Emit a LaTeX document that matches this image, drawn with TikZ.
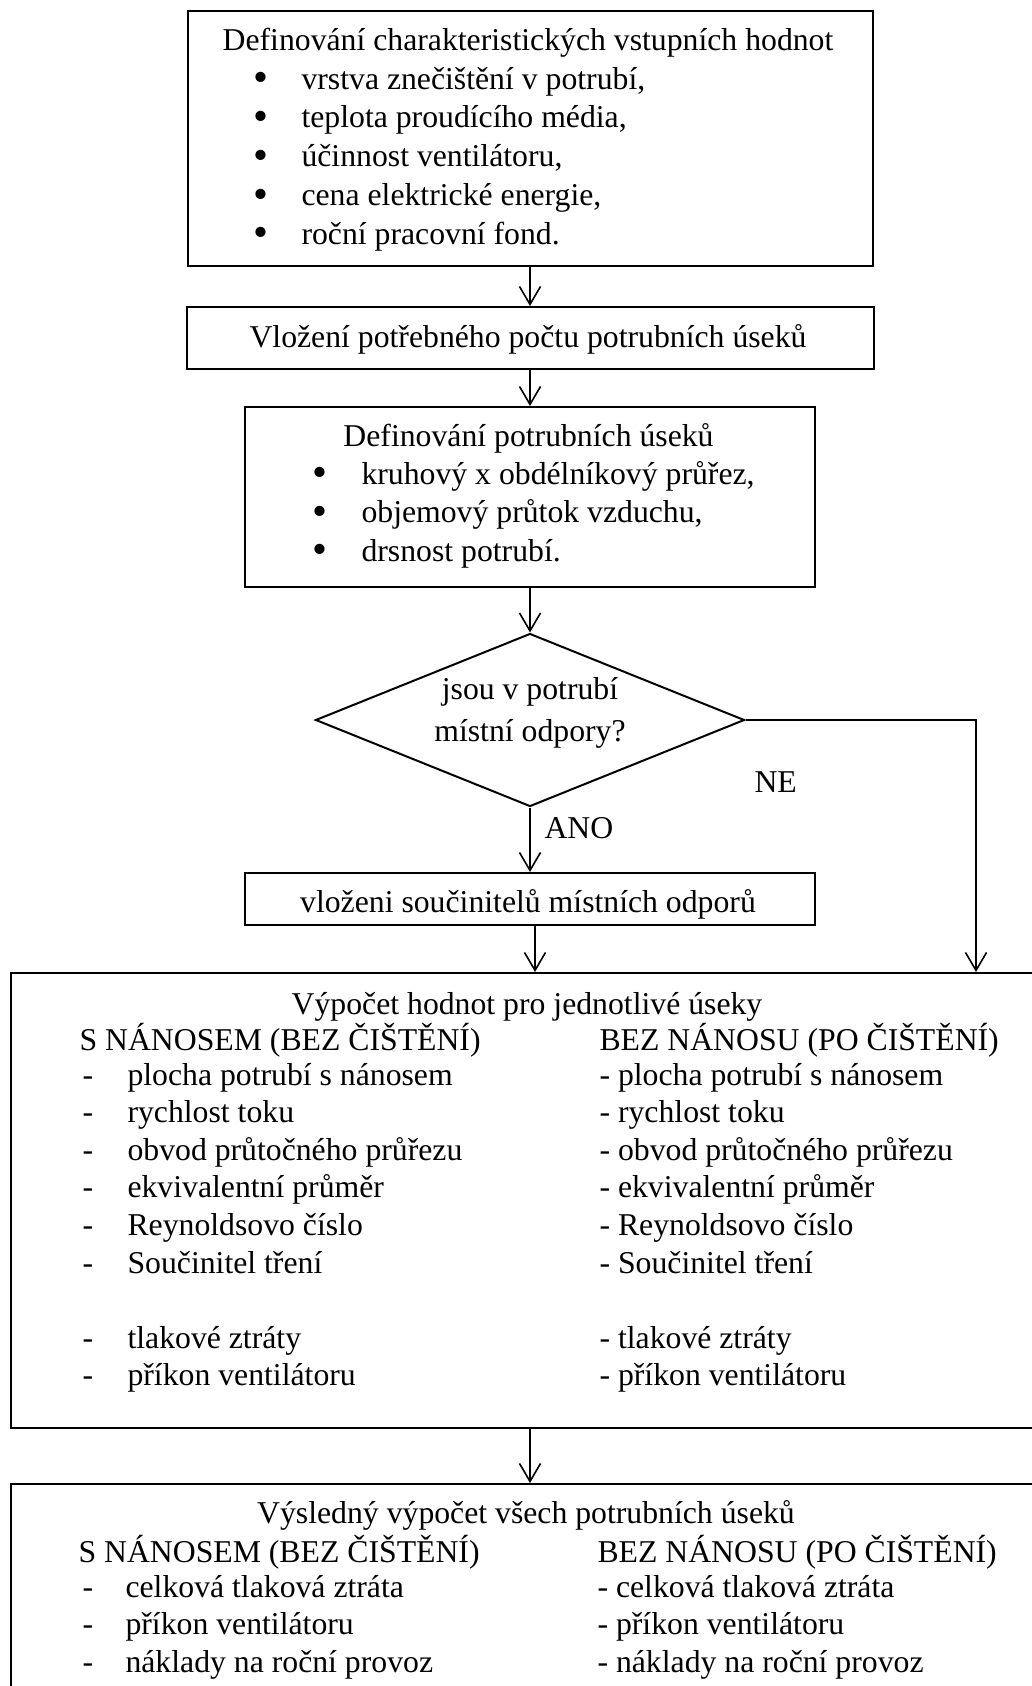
\documentclass[tikz,border=0pt]{standalone}
\usepackage{fontspec}
\setmainfont{Liberation Serif}
\usetikzlibrary{shapes.geometric,arrows.meta}
\def\pxu{0.375pt}
\tikzset{
   box/.style={draw, line width=0.75pt, rectangle, inner sep=0pt},
   decision/.style={draw, line width=0.75pt, diamond, aspect=2.48, inner sep=0pt},
   flow/.style={line width=0.6pt, -{Straight Barb[length=6.75pt, width=7.9pt]}},
   txt/.style={inner sep=0pt, anchor=base west, font=\fontsize{11.9}{14}\selectfont},
   ctxt/.style={txt, anchor=base},
   dot/.style={inner sep=0pt, anchor=center, font=\fontsize{16}{16}\selectfont},
}
\begin{document}
\begin{tikzpicture}[x=\pxu, y=-\pxu]
   \useasboundingbox (0, 0) rectangle (1032, 1686);
   % boxes
   \node[box, minimum width=685*\pxu, minimum height=255*\pxu] (inputs) at (530, 138.5) {};
   \node[box, minimum width=687*\pxu, minimum height=62*\pxu] (count) at (530, 338) {};
   \node[box, minimum width=570*\pxu, minimum height=180*\pxu] (sections) at (530, 497) {};
   \node[decision, minimum width=429*\pxu, minimum height=173*\pxu] (dec) at (530, 720) {};
   \node[box, minimum width=570*\pxu, minimum height=52*\pxu] (coef) at (530, 899) {};
   \node[box, minimum width=1034*\pxu, minimum height=455*\pxu] (calc) at (528, 1200.5) {};
   \node[box, minimum width=1034*\pxu, minimum height=216*\pxu] (result) at (528, 1592) {};
   % input values
   \node[ctxt] (intitle) at (528, 50.5) {Definování charakteristických vstupních hodnot};
   \foreach \t [count=\i] in {{vrstva znečištění v potrubí,}, {teplota proudícího média,},
         {účinnost ventilátoru,}, {cena elektrické energie,}, {roční pracovní fond.}} {
      \node[dot] (inb\i) at (261, {89 + 38.8*(\i - 1) - 7}) {•};
      \node[txt] (in\i) at (301, {89 + 38.8*(\i - 1)}) {\t};
   }
   \node[ctxt] (counttext) at (528, 347) {Vložení potřebného počtu potrubních úseků};
   % pipe sections
   \node[ctxt] (sectitle) at (528.5, 446) {Definování potrubních úseků};
   \foreach \t [count=\i] in {{kruhový x obdélníkový průřez,}, {objemový průtok vzduchu,},
         {drsnost potrubí.}} {
      \node[dot] (secb\i) at (320, {484 + 38.5*(\i - 1) - 7}) {•};
      \node[txt] (sec\i) at (361, {484 + 38.5*(\i - 1)}) {\t};
   }
   % decision
   \node[ctxt] (dec1) at (530, 699) {jsou v potrubí};
   \node[ctxt] (dec2) at (530, 741) {místní odpory?};
   \node[txt] (ne) at (754, 792) {NE};
   \node[txt] (ano) at (544, 838) {ANO};
   \node[ctxt] (coeftext) at (528, 912) {vloženi součinitelů místních odporů};
   % values per section
   \node[ctxt] (calctitle) at (527, 1014) {Výpočet hodnot pro jednotlivé úseky};
   \node[txt] (calcl) at (79, 1050) {S NÁNOSEM (BEZ ČIŠTĚNÍ)};
   \node[txt] (calcr) at (599, 1050) {BEZ NÁNOSU (PO ČIŠTĚNÍ)};
   \foreach \k/\t in {1/plocha potrubí s nánosem, 2/rychlost toku, 3/obvod průtočného průřezu,
         4/ekvivalentní průměr, 5/Reynoldsovo číslo, 6/Součinitel tření,
         8/tlakové ztráty, 9/příkon ventilátoru} {
      \node[txt] (cd\k) at (82, {1085 + 37.6*(\k - 1)}) {-};
      \node[txt] (cl\k) at (127, {1085 + 37.6*(\k - 1)}) {\t};
      \node[txt] (cr\k) at (599, {1085 + 37.6*(\k - 1)}) {- \t};
   }
   % final result
   \node[ctxt] (restitle) at (526, 1523) {Výsledný výpočet všech potrubních úseků};
   \node[txt] (resl) at (78, 1562) {S NÁNOSEM (BEZ ČIŠTĚNÍ)};
   \node[txt] (resr) at (597, 1562) {BEZ NÁNOSU (PO ČIŠTĚNÍ)};
   \foreach \t [count=\i] in {celková tlaková ztráta, příkon ventilátoru, náklady na roční provoz} {
      \node[txt] (rd\i) at (82, {1597 + 37.6*(\i - 1)}) {-};
      \node[txt] (rl\i) at (125, {1597 + 37.6*(\i - 1)}) {\t};
      \node[txt] (rr\i) at (597, {1597 + 37.6*(\i - 1)}) {- \t};
   }
   % connectors
   \draw[flow] (inputs.south) -- (count.north);
   \draw[flow] (count.south) -- (sections.north);
   \draw[flow] (sections.south) -- (dec.north);
   \draw[flow] (dec.south) -- (coef.north);
   \draw[flow] ([xshift=5*\pxu]coef.south) -- ([xshift=5*\pxu]coef.south |- calc.north);
   \coordinate (nebend) at (976, 720);
   \draw[flow] (dec.east) -- (nebend) -- (nebend |- calc.north);
   \draw[flow] (calc.south -| dec.south) -- (result.north -| dec.south);
\end{tikzpicture}
\end{document}
